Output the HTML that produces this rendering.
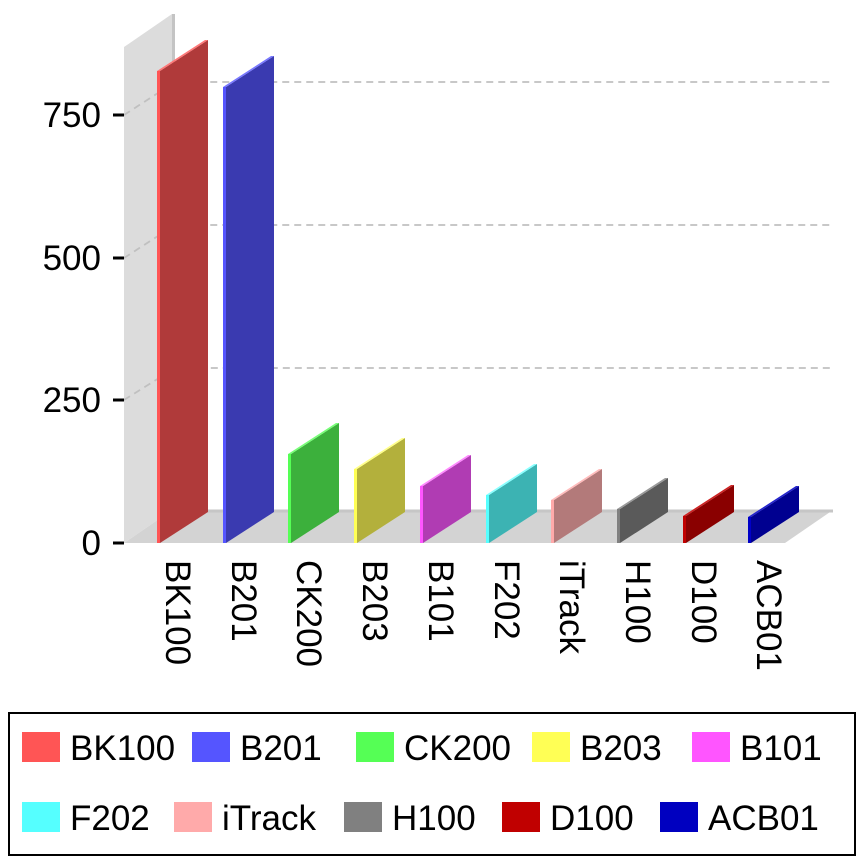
<!DOCTYPE html>
<html><head><style>
body{margin:0;background:#fff;}
svg{display:block;font-family:"Liberation Sans",sans-serif;}
</style></head><body>
<svg width="864" height="864" viewBox="0 0 864 864">
<polygon points="124,47 172,14 172,510 124,543" fill="#dcdcdc"/>
<rect x="172" y="14" width="3" height="496" fill="#c4c4c4"/>
<polygon points="124,543 172,510 833,510 785,543" fill="#d3d3d3"/>
<line x1="172" y1="511" x2="833" y2="511" stroke="#c6c6c6" stroke-width="3"/>
<g stroke="#c0c0c0" stroke-width="1.8" stroke-dasharray="7,5" fill="none">
<polyline points="124,115 175,82 833,82"/>
<polyline points="124,258 175,225 833,225"/>
<polyline points="124,400 175,368 833,368"/>
</g>
<g stroke="#000" stroke-width="3">
<line x1="113" y1="115" x2="124" y2="115"/>
<line x1="113" y1="258" x2="124" y2="258"/>
<line x1="113" y1="400" x2="124" y2="400"/>
<line x1="113" y1="543" x2="124" y2="543"/>
</g>
<g font-size="35" text-anchor="end" fill="#000">
<text x="101" y="127">750</text>
<text x="101" y="270">500</text>
<text x="101" y="412">250</text>
<text x="101" y="555">0</text>
</g>

<polygon points="160,71 208,40 208,512 160,543" fill="#b03a3a"/>
<polygon points="157,71 160,71 208,40 205,40" fill="#ff7777"/>
<rect x="157" y="71" width="3" height="472" fill="#ff5555"/>

<polygon points="226,87 274,56 274,512 226,543" fill="#3a3ab0"/>
<polygon points="223,87 226,87 274,56 271,56" fill="#7777ff"/>
<rect x="223" y="87" width="3" height="456" fill="#5555ff"/>

<polygon points="291,454 339,423 339,512 291,543" fill="#3cb03c"/>
<polygon points="288,454 291,454 339,423 336,423" fill="#77ff77"/>
<rect x="288" y="454" width="3" height="89" fill="#55ff55"/>

<polygon points="357,469 405,438 405,512 357,543" fill="#b3b03c"/>
<polygon points="354,469 357,469 405,438 402,438" fill="#ffff88"/>
<rect x="354" y="469" width="3" height="74" fill="#ffff55"/>

<polygon points="423,486 471,455 471,512 423,543" fill="#b03cb3"/>
<polygon points="420,486 423,486 471,455 468,455" fill="#ff88ff"/>
<rect x="420" y="486" width="3" height="57" fill="#ff55ff"/>

<polygon points="489,495 537,464 537,512 489,543" fill="#3cb3b3"/>
<polygon points="486,495 489,495 537,464 534,464" fill="#88ffff"/>
<rect x="486" y="495" width="3" height="48" fill="#55ffff"/>

<polygon points="554,500 602,469 602,512 554,543" fill="#b37a7a"/>
<polygon points="551,500 554,500 602,469 599,469" fill="#ffbbbb"/>
<rect x="551" y="500" width="3" height="43" fill="#ffaaaa"/>

<polygon points="620,509 668,478 668,512 620,543" fill="#5a5a5a"/>
<polygon points="617,509 620,509 668,478 665,478" fill="#999999"/>
<rect x="617" y="509" width="3" height="34" fill="#808080"/>

<polygon points="686,516 734,485 734,512 686,543" fill="#8a0000"/>
<polygon points="683,516 686,516 734,485 731,485" fill="#cc2222"/>
<rect x="683" y="516" width="3" height="27" fill="#c00000"/>

<polygon points="751,517 799,486 799,512 751,543" fill="#000090"/>
<polygon points="748,517 751,517 799,486 796,486" fill="#2222cc"/>
<rect x="748" y="517" width="3" height="26" fill="#0000c8"/>

<g font-size="35" fill="#000">
<text transform="translate(166,560) rotate(90)">BK100</text>
<text transform="translate(232,560) rotate(90)">B201</text>
<text transform="translate(297,560) rotate(90)">CK200</text>
<text transform="translate(363,560) rotate(90)">B203</text>
<text transform="translate(429,560) rotate(90)">B101</text>
<text transform="translate(495,560) rotate(90)">F202</text>
<text transform="translate(560,560) rotate(90)">iTrack</text>
<text transform="translate(626,560) rotate(90)">H100</text>
<text transform="translate(692,560) rotate(90)">D100</text>
<text transform="translate(757,560) rotate(90)">ACB01</text>
</g>

<rect x="9" y="713" width="846" height="142" fill="#fff" stroke="#000" stroke-width="2"/>
<g font-size="35" fill="#000">
<rect x="22" y="732" width="38" height="30" fill="#ff5555"/><text x="70" y="760">BK100</text>
<rect x="192" y="732" width="38" height="30" fill="#5555ff"/><text x="240" y="760">B201</text>
<rect x="356" y="732" width="38" height="30" fill="#55ff55"/><text x="404" y="760">CK200</text>
<rect x="532" y="732" width="38" height="30" fill="#ffff55"/><text x="580" y="760">B203</text>
<rect x="692" y="732" width="38" height="30" fill="#ff55ff"/><text x="740" y="760">B101</text>
<rect x="22" y="802" width="38" height="30" fill="#55ffff"/><text x="70" y="830">F202</text>
<rect x="174" y="802" width="38" height="30" fill="#ffaaaa"/><text x="222" y="830">iTrack</text>
<rect x="344" y="802" width="38" height="30" fill="#808080"/><text x="392" y="830">H100</text>
<rect x="502" y="802" width="38" height="30" fill="#c00000"/><text x="550" y="830">D100</text>
<rect x="660" y="802" width="38" height="30" fill="#0000c0"/><text x="708" y="830">ACB01</text>
</g>
</svg>
</body></html>
